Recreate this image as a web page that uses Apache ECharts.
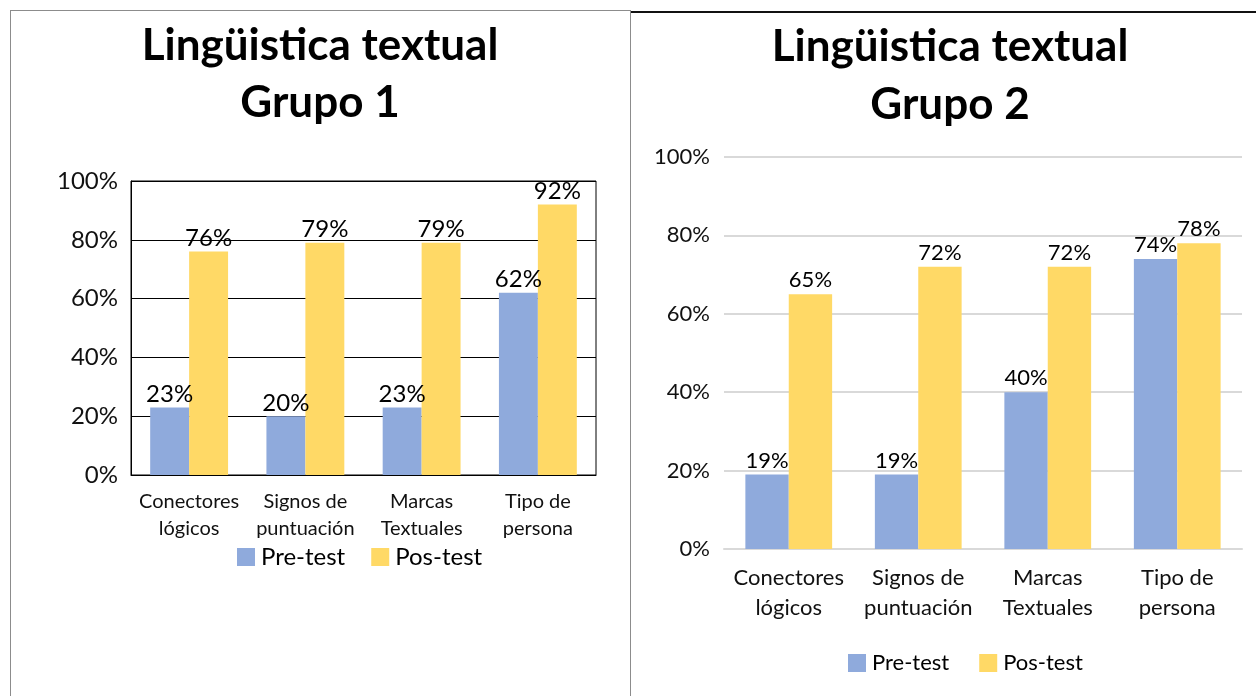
<!DOCTYPE html>
<html><head><meta charset="utf-8">
<script src="https://cdn.jsdelivr.net/npm/echarts@6/dist/echarts.min.js"></script>
<style>
html,body{margin:0;padding:0;background:#fff;width:1256px;height:696px;overflow:hidden;position:relative;}
#c1{position:absolute;left:10px;top:10px;width:621px;height:690px;border:1px solid #8c8c8c;box-sizing:border-box;}
#c2{position:absolute;left:631px;top:11px;width:625px;height:690px;border-top:2px solid #111;box-sizing:border-box;}
</style></head><body>
<div id="c1"></div><div id="c2"></div>
<script>
const categories = ['Conectores\nlógicos', 'Signos de\npuntuación', 'Marcas\nTextuales', 'Tipo de\npersona'];
const seriesNames = ['Pre-test', 'Pos-test'];
const g1Pre = [23, 20, 23, 62];
const g1Pos = [76, 79, 79, 92];
const g2Pre = [19, 19, 40, 74];
const g2Pos = [65, 72, 72, 78];
const yTicks = [0, 20, 40, 60, 80, 100];
const titles = ['Lingüistica textual\nGrupo 1', 'Lingüistica textual\nGrupo 2'];

const FONT = 'Lato';
const blue = '#8faadc', yellow = '#ffd966';

function makeOption(cfg) {
  return {
    animation: false,
    textStyle: { fontFamily: FONT },
    title: {
      text: cfg.title, left: cfg.titleLeft, top: cfg.titleTop,
      textAlign: 'center',
      textStyle: { fontFamily: FONT, fontWeight: 'bold', fontSize: 44, lineHeight: cfg.titleLH, color: '#000' }
    },
    legend: {
      data: seriesNames, left: cfg.legendLeft, top: cfg.legendTop,
      itemWidth: 18, itemHeight: 18, itemGap: cfg.legendGap, icon: 'rect',
      textStyle: { fontFamily: FONT, fontSize: cfg.legendSize, color: '#000', padding: [0, 0, 0, 1] }
    },
    grid: Object.assign({ containLabel: false }, cfg.grid),
    xAxis: {
      type: 'category', data: categories,
      axisTick: { show: false },
      axisLine: { show: true, lineStyle: cfg.xLine },
      axisLabel: { fontFamily: FONT, fontSize: cfg.catSize, color: '#111', lineHeight: cfg.catLH, margin: cfg.catMargin, interval: 0 }
    },
    yAxis: {
      type: 'value', min: 0, max: 100, interval: 20,
      axisLine: { show: cfg.yLineShow, lineStyle: { color: '#000', width: 1 } },
      axisTick: { show: false },
      splitLine: { lineStyle: cfg.split },
      axisLabel: { formatter: v => yTicks.includes(v) ? v + '%' : '', fontFamily: FONT, fontSize: cfg.ySize, color: '#111', margin: cfg.yMargin }
    },
    series: [
      { name: seriesNames[0], type: 'bar', data: cfg.pre, itemStyle: { color: blue }, barGap: '0%', barCategoryGap: cfg.gap,
        label: { show: true, position: 'top', distance: cfg.lblDist, formatter: '{c}%', fontFamily: FONT, fontSize: cfg.lblSize, color: '#000' } },
      { name: seriesNames[1], type: 'bar', data: cfg.pos, itemStyle: { color: yellow }, barGap: '0%', barCategoryGap: cfg.gap,
        label: { show: true, position: 'top', distance: cfg.lblDist, formatter: '{c}%', fontFamily: FONT, fontSize: cfg.lblSize, color: '#000' } }
    ]
  };
}

const c1 = echarts.init(document.getElementById('c1'), null, { renderer: 'canvas' });
c1.setOption(makeOption({
  title: titles[0], titleLeft: 304, titleTop: 1, titleLH: 57,
  legendLeft: 221, legendTop: 529, legendGap: 26, legendSize: 24,
  grid: { left: 120, top: 170, width: 465, height: 294, show: true, borderColor: '#000', borderWidth: 1 },
  xLine: { color: '#000', width: 1 }, catSize: 20, catLH: 27, catMargin: 13,
  yLineShow: true, split: { color: '#000', width: 1 }, ySize: 24, yMargin: 13,
  pre: g1Pre, pos: g1Pos, gap: '33%', lblSize: 24, lblDist: 1
}));

const c2 = echarts.init(document.getElementById('c2'), null, { renderer: 'canvas' });
c2.setOption(makeOption({
  title: titles[1], titleLeft: 314, titleTop: 0, titleLH: 58,
  legendLeft: 212, legendTop: 634, legendGap: 30, legendSize: 22,
  grid: { left: 93, top: 144, width: 518, height: 392 },
  xLine: { color: '#d9d9d9', width: 2 }, catSize: 22, catLH: 30, catMargin: 14,
  yLineShow: false, split: { color: '#d9d9d9', width: 2 }, ySize: 22, yMargin: 14,
  pre: g2Pre, pos: g2Pos, gap: '33%', lblSize: 22, lblDist: 3
}));
</script>
</body></html>
